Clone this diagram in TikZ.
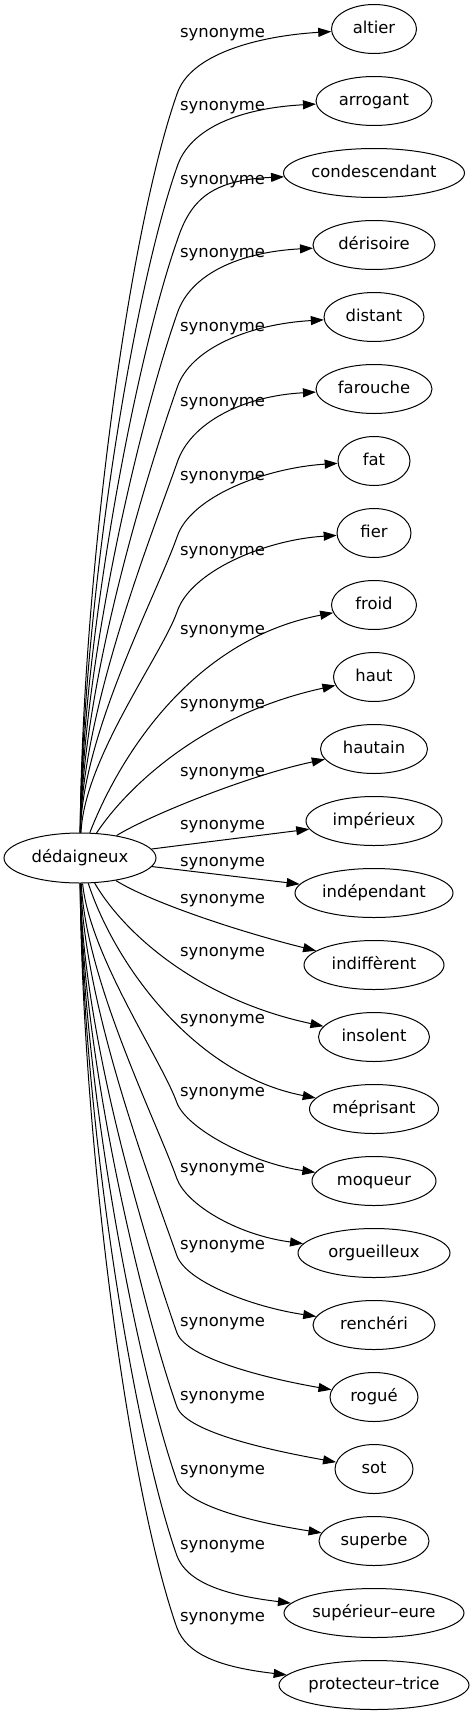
\documentclass[tikz,border=0pt]{standalone}
\usepackage{fontspec}
\setmainfont{DejaVu Sans}
\usetikzlibrary{arrows.meta,shapes.geometric,calc}
\begin{document}
\begin{tikzpicture}[x=1pt,y=1pt,
  every node/.style={font=\fontsize{16.4}{19}\selectfont},
  ell/.style={draw, ellipse, inner sep=0pt, minimum height=49pt, text height=12pt, text depth=3.5pt, line width=1pt},
  lab/.style={anchor=base west, inner sep=0pt},
  syn/.style={draw, line width=1pt, -{Triangle[length=13pt,width=9pt]}}]
\useasboundingbox (0,0) rectangle (473,-1715);
\node[ell, minimum width=152pt, minimum height=50pt] (src) at (80,-858) {dédaigneux};
\foreach \n/\t/\y/\w in {
  t1/altier/29/85, t2/arrogant/101/116, t3/condescendant/173/181, t4/dérisoire/245/122,
  t5/distant/317/100, t6/farouche/389/116, t7/fat/461/72, t8/fier/533/74,
  t9/froid/605/85, t10/haut/677/81, t11/hautain/749/107, t12/impérieux/821/136,
  t13/indépendant/893/158, t14/indiffèrent/965/140, t15/insolent/1037/111, t16/méprisant/1109/129,
  t17/moqueur/1181/124, t18/orgueilleux/1253/152, t19/renchéri/1325/122, t20/rogué/1397/88,
  t21/sot/1469/78, t22/superbe/1541/110, t23/supérieur–eure/1613/180, t24/protecteur–trice/1685/190}
{ \node[ell, minimum width=\w*1pt] (\n) at (374,-\y) {\t}; }
\foreach \L [count=\i] in {34,107,181,254,328,403,477,552,631,705,773,826,863,900,953,1020,1093,1169,1246,1323,1397,1471,1546,1618}
{ \node[lab] (l\i) at (180,{-(\L+3.5)}) {synonyme}; }
% upper edges
\foreach \n/\L/\xs in {t1/34/82, t2/107/82, t3/181/82, t4/254/82, t5/328/82, t6/403/82, t7/477/82, t8/552/84}
{
  \pgfmathsetmacro\ky{\L+60}
  \pgfmathsetmacro\h{833-\ky}
  \coordinate (k\n) at (177,-\ky);
  \draw[syn] (src) .. controls (\xs,{-(833-\h/3)}) and ({177-0.0676*\h},{-(\ky+0.192*\h)}) .. (k\n)
     .. controls (190,{-(\ky-40)}) and ($(\n.west)+(-73,-7)$) .. (\n);
}
\draw[syn] (src) .. controls (118,-760) and (190,-640) .. (t9);
\draw[syn] (src) .. controls (125,-790) and (200,-715) .. (t10);
\draw[syn] (src) .. controls (150,-815) and (250,-775) .. (t11);
\draw[syn] (src) -- (t12);
\draw[syn] (src) -- (t13);
\draw[syn] (src) .. controls (150,-902) and (240,-932) .. (t14);
\draw[syn] (src) .. controls (125,-935) and (200,-1000) .. (t15);
\draw[syn] (src) .. controls (115,-965) and (195,-1075) .. (t16);
% lower edges
\foreach \n/\L/\xs in {t17/1093/90, t18/1169/86, t19/1246/84, t20/1323/82, t21/1397/82, t22/1471/82, t23/1546/82, t24/1618/82}
{
  \pgfmathsetmacro\ky{\L+10}
  \pgfmathsetmacro\h{\ky-883}
  \coordinate (k\n) at (177,-\ky);
  \draw[syn] (src) .. controls (\xs,{-(883+\h/3)}) and ({177-0.0676*\h},{-(\ky-0.192*\h)}) .. (k\n)
     .. controls (187,{-(\ky+26)}) and ($(\n.west)+(-60,18)$) .. (\n);
}
\end{tikzpicture}
\end{document}
